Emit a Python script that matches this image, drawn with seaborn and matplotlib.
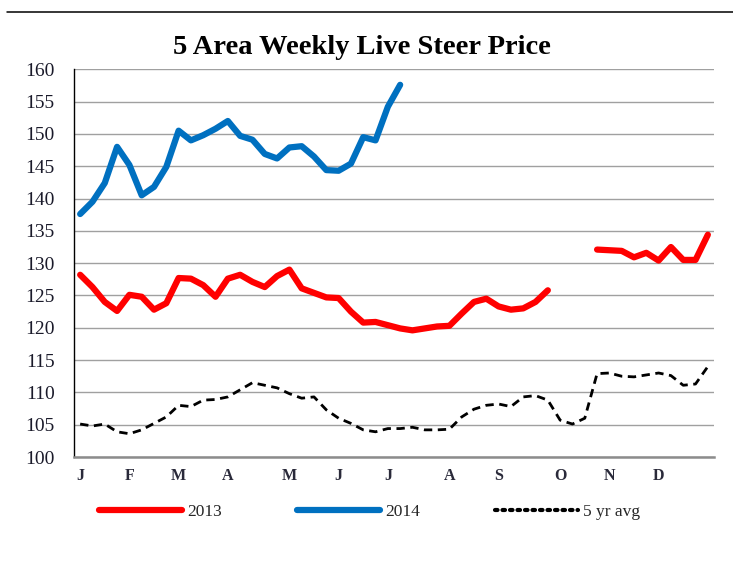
import numpy as np
import pandas as pd
import matplotlib.pyplot as plt
import seaborn as sns
from matplotlib.lines import Line2D

# weekly prices ($/cwt), week index 0..51
weeks = np.arange(52)

price_2013 = [128.2, 126.3, 124.0, 122.6, 125.1, 124.8, 122.8, 123.8, 127.7, 127.6,
              126.6, 124.8, 127.6, 128.2, 127.1, 126.3, 128.0, 129.0, 126.1, 125.4,
              124.7, 124.6, 122.5, 120.8, 120.9, 120.4, 119.9, 119.6, 119.9, 120.2,
              120.3, 122.2, 124.0, 124.5, 123.3, 122.8, 123.0, 124.0, 125.8, np.nan,
              np.nan, np.nan, 132.1, 132.0, 131.9, 130.9, 131.6, 130.4, 132.5, 130.5,
              130.5, 134.4]

price_2014 = [137.6, 139.5, 142.4, 148.0, 145.2, 140.5, 141.8, 144.9, 150.5, 149.0,
              149.8, 150.8, 152.0, 149.7, 149.1, 146.9, 146.2, 147.9, 148.1, 146.5,
              144.4, 144.3, 145.4, 149.5, 149.0, 154.2, 157.6]

avg_5yr = [105.1, 104.8, 105.1, 103.9, 103.6, 104.2, 105.2, 106.2, 108.0, 107.8,
           108.8, 108.9, 109.3, 110.4, 111.5, 111.1, 110.7, 109.8, 109.1, 109.3,
           107.3, 106.0, 105.2, 104.2, 103.9, 104.4, 104.4, 104.6, 104.2, 104.2,
           104.3, 106.2, 107.4, 108.0, 108.2, 107.8, 109.3, 109.5, 108.8, 105.7,
           105.1, 106.0, 112.9, 113.0, 112.5, 112.4, 112.7, 113.0, 112.6, 111.1,
           111.3, 114.0]

month_weeks = [0, 4, 8, 12, 17, 21, 25, 30, 34, 39, 43, 47]
month_labels = ["J", "F", "M", "A", "M", "J", "J", "A", "S", "O", "N", "D"]

red = "#FF0000"
blue = "#0070C0"

sns.set_style("white")
plt.rcParams["font.family"] = ["Liberation Serif", "DejaVu Serif"]

fig = plt.figure(figsize=(7.33, 5.63), dpi=100)
ax = fig.add_axes([74 / 733, 1 - 457 / 563, (714 - 74) / 733, (457 - 69.3) / 563])

# 2013 has a gap in October, draw it as two segments
df13 = pd.DataFrame({"week": weeks, "price": price_2013})
df13["seg"] = np.where(df13["week"] < 40, 0, 1)
df13 = df13.dropna()
sns.lineplot(data=df13, x="week", y="price", units="seg", estimator=None,
             color=red, linewidth=4.5, ax=ax, legend=False,
             solid_capstyle="round", solid_joinstyle="round")

df14 = pd.DataFrame({"week": weeks[:len(price_2014)], "price": price_2014})
sns.lineplot(data=df14, x="week", y="price", color=blue, linewidth=4.5, ax=ax,
             legend=False, solid_capstyle="round", solid_joinstyle="round")

dfavg = pd.DataFrame({"week": weeks, "price": avg_5yr})
sns.lineplot(data=dfavg, x="week", y="price", color="black", linewidth=2.0, ax=ax,
             legend=False)
ax.lines[-1].set_dashes((3, 2))

ax.set_xlim(-0.5, 51.5)
ax.set_ylim(100, 160)
ax.set_yticks(np.arange(100, 161, 5))
ax.set_xticks(month_weeks)
ax.set_xticklabels(month_labels, fontweight="bold", fontsize=11.5, color="#2a2a3a")
ax.tick_params(axis="x", length=0, pad=8)
ax.tick_params(axis="y", length=0, pad=14, labelsize=14, labelcolor="#1a1a2a")
ax.set_xlabel("")
ax.set_ylabel("")
ax.grid(axis="y", color="#a0a0a0", linewidth=1.0)
ax.set_axisbelow(True)
for s in ["top", "right"]:
    ax.spines[s].set_visible(False)
ax.spines["left"].set_color("black")
ax.spines["left"].set_linewidth(1.0)
ax.spines["bottom"].set_color("#8c8c8c")
ax.spines["bottom"].set_linewidth(1.8)

fig.text(0.494, 1 - 47 / 563, "5 Area Weekly Live Steer Price",
         ha="center", va="center", fontsize=20.5, fontweight="bold", color="black")

# rule across the top of the page
fig.add_artist(Line2D([7 / 733, 1.0], [1 - 12 / 563, 1 - 12 / 563],
                      color="black", linewidth=1.1))

handles = [
    Line2D([], [], color=red, linewidth=4.5, solid_capstyle="round"),
    Line2D([], [], color=blue, linewidth=4.5, solid_capstyle="round"),
    Line2D([], [], color="black", linewidth=3.0, linestyle=(0, (0.6, 1.2)),
           dash_capstyle="round"),
]
fig.legend(handles, ["2013", "2014", "5 yr avg"], loc="center",
           bbox_to_anchor=(0.504, 1 - 512 / 563), ncol=3, frameon=False,
           fontsize=12.5, handlelength=4.8, handletextpad=0.3, columnspacing=4.3)

fig.savefig("out.png", dpi=100)
